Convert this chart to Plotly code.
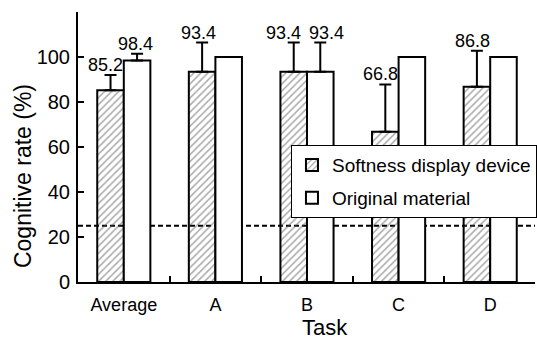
import plotly.graph_objects as go

# Data
tasks = ["Average", "A", "B", "C", "D"]
device_rate = [85.2, 93.4, 93.4, 66.8, 86.8]
device_err = [6.8, 13.0, 13.0, 21.0, 16.0]
original_rate = [98.4, 100.0, 93.4, 100.0, 100.0]
original_err = [3.0, 0.0, 13.0, 0.0, 0.0]
original_labelled = [True, False, True, False, False]
chance_level = 25
y_ticks = [0, 20, 40, 60, 80, 100, 120]
y_ticktext = ["0", "20", "40", "60", "80", "100", ""]

# Styling
FONT = "Liberation Sans, Arial, sans-serif"
BAR_W = 0.29
device_xshift = [-5, -4, -10, -5, -4]
original_xshift = [-2, 0, 6, 0, 0]

xs = list(range(len(tasks)))

fig = go.Figure()

fig.add_trace(go.Bar(
    x=xs, y=device_rate, name="Softness display device",
    width=BAR_W, offset=-BAR_W,
    marker=dict(color="rgba(0,0,0,0)",
                line=dict(color="black", width=2),
                pattern=dict(shape="/", fgcolor="#555555", bgcolor="rgba(0,0,0,0)",
                             size=5, solidity=0.3)),
    error_y=dict(type="data", array=device_err, arrayminus=[0] * len(device_err),
                 symmetric=False, color="black", thickness=2, width=6),
    legendgroup="dev",
))

fig.add_trace(go.Bar(
    x=xs, y=original_rate, name="Original material",
    width=BAR_W, offset=0,
    marker=dict(color="white", line=dict(color="black", width=2)),
    error_y=dict(type="data", array=original_err, arrayminus=[0] * len(original_err),
                 symmetric=False, color="black", thickness=2, width=6),
    legendgroup="orig",
))

# Chance level reference line
fig.add_shape(type="line", xref="paper", yref="y", x0=0, x1=1,
              y0=chance_level, y1=chance_level,
              line=dict(color="black", width=2, dash="5px,3px"), layer="below")

annotations = []
for i, (v, e) in enumerate(zip(device_rate, device_err)):
    annotations.append(dict(x=i - BAR_W / 2, y=v + e, text=f"{v:.1f}",
                            xref="x", yref="y", showarrow=False,
                            xanchor="center", yanchor="bottom",
                            xshift=device_xshift[i], yshift=-2,
                            font=dict(family=FONT, size=18, color="black")))
for i, (v, e) in enumerate(zip(original_rate, original_err)):
    if original_labelled[i]:
        annotations.append(dict(x=i + BAR_W / 2, y=v + e, text=f"{v:.1f}",
                                xref="x", yref="y", showarrow=False,
                                xanchor="center", yanchor="bottom",
                                xshift=original_xshift[i], yshift=-2,
                                font=dict(family=FONT, size=18, color="black")))

# Axis titles
annotations.append(dict(text="Cognitive rate (%)", xref="paper", yref="paper",
                        x=-0.12, y=0.393, textangle=-90, showarrow=False,
                        xanchor="center", yanchor="middle",
                        font=dict(family=FONT, size=23, color="black")))
annotations.append(dict(text="Task", xref="paper", yref="paper",
                        x=0.54, y=-0.17, showarrow=False,
                        xanchor="center", yanchor="middle",
                        font=dict(family=FONT, size=22, color="black")))

fig.update_layout(
    width=537, height=339,
    margin=dict(l=78, r=0, t=12, b=57),
    paper_bgcolor="white", plot_bgcolor="white",
    font=dict(family=FONT, color="black"),
    barmode="overlay",
    annotations=annotations,
    legend=dict(x=0.466, y=0.507, xanchor="left", yanchor="top",
                bgcolor="white", bordercolor="black", borderwidth=1,
                font=dict(family=FONT, size=19, color="black"),
                traceorder="grouped", tracegroupgap=5, itemwidth=30),
    xaxis=dict(range=[-0.5, -0.5 + 459 / 92], tickmode="array", tickvals=xs,
               ticktext=tasks, ticks="", showline=True, linecolor="black",
               linewidth=2, showgrid=False, zeroline=False,
               tickfont=dict(family=FONT, size=18, color="black"),
               ticklabelstandoff=5,
               minor=dict(tickmode="array", tickvals=[x + 0.5 for x in xs],
                          ticks="inside", ticklen=6, tickwidth=2,
                          tickcolor="black", showgrid=False)),
    yaxis=dict(range=[0, 120], tickmode="array", tickvals=y_ticks,
               ticktext=y_ticktext, ticks="inside", ticklen=6, tickwidth=2,
               tickcolor="black", showline=True, linecolor="black",
               linewidth=2, showgrid=False, zeroline=False,
               tickfont=dict(family=FONT, size=20, color="black"),
               ticklabelstandoff=2),
)

fig.write_html("out.html")
